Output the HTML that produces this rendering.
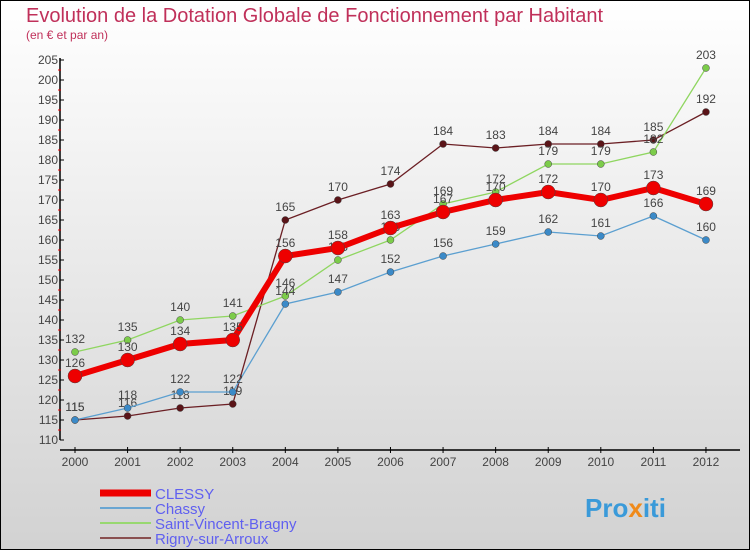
<!DOCTYPE html>
<html><head><meta charset="utf-8"><style>
body{margin:0}
#c{width:750px;height:550px;position:relative;box-sizing:border-box;border:1px solid #000;background:linear-gradient(#ffffff,#d2d2d2);font-family:"Liberation Sans",sans-serif;overflow:hidden}
</style></head><body>
<div id="c">
<svg id="s" width="750" height="550" style="position:absolute;left:-1px;top:-1px">
<text x="26" y="22" font-size="20" fill="#c0305a">Evolution de la Dotation Globale de Fonctionnement par Habitant</text>
<text x="26" y="39" font-size="12" fill="#c0305a">(en € et par an)</text>
<g id="ax"></g><g id="ser"></g><g id="leg"></g>
<text x="585" y="517" font-size="26" font-weight="bold" fill="#3a9ad9">Pro<tspan fill="#f08a1a">x</tspan><tspan fill="#3a9ad9">iti</tspan></text>
</svg>
</div>
<script>
const years=[2000,2001,2002,2003,2004,2005,2006,2007,2008,2009,2010,2011,2012];
const clessy=[126,130,134,135,156,158,163,167,170,172,170,173,169];
const chassy=[115,118,122,122,144,147,152,156,159,162,161,166,160];
const svb=[132,135,140,141,146,155,160,169,172,179,179,182,203];
const rigny=[115,116,118,119,165,170,174,184,183,184,184,185,192];
const yTicks=[110,115,120,125,130,135,140,145,150,155,160,165,170,175,180,185,190,195,200,205];
const NS="http://www.w3.org/2000/svg";
const X=i=>75+i*52.58, Y=v=>60+(205-v)*4;
function mk(t,a,p){const e=document.createElementNS(NS,t);for(const k in a)e.setAttribute(k,a[k]);p.appendChild(e);return e;}
const ax=document.getElementById('ax');
let l=mk('line',{x1:60,y1:58,x2:60,y2:440,stroke:'#000','stroke-width':1.5},ax);


l=mk('line',{x1:60,y1:450,x2:740,y2:450,stroke:'#000','stroke-width':1.5},ax);


yTicks.forEach(v=>{
 mk('line',{x1:60,y1:Y(v),x2:64,y2:Y(v),stroke:'#000'},ax);
 if(v<205)mk('line',{x1:58,y1:Y(v+2.5),x2:61,y2:Y(v+2.5),stroke:'#e00'},ax);
 const t=mk('text',{x:58,y:Y(v)+4,'font-size':12,fill:'#444','text-anchor':'end'},ax);t.textContent=v;
 
 
});
years.forEach((y,i)=>{
 mk('line',{x1:X(i),y1:447,x2:X(i),y2:453,stroke:'#000'},ax);
 const t=mk('text',{x:X(i),y:466,'font-size':12,fill:'#444','text-anchor':'middle'},ax);t.textContent=y;
 
 
});
const ser=document.getElementById('ser');
const defs=[[rigny,'#6b1f24','#5a1418',1.3,3.5,'rigny'],[svb,'#8fd660','#7ccc4a',1.3,3.5,'saint-vincent-bragny'],[chassy,'#5b9fd0','#3b8ac8',1.3,3.5,'chassy'],[clessy,'#ee0000','#ee0000',6,7,'clessy']];
defs.forEach(([d,lc,pc,w,r,n])=>{
 const p=mk('polyline',{points:d.map((v,i)=>X(i)+','+Y(v)).join(' '),fill:'none',stroke:lc,'stroke-width':w},ser);
 
 
 d.forEach((v,i)=>{
  const c=mk('circle',{cx:X(i),cy:Y(v),r:r,fill:pc,stroke:'#444','stroke-width':0.5},ser);
  
  
  const t=mk('text',{x:X(i),y:Y(v)-9,'font-size':12,fill:'#444','text-anchor':'middle'},ser);t.textContent=v;
  
  
 });
});
const leg=document.getElementById('leg');
[['CLESSY','#ee0000',7],['Chassy','#6aa6d2',2],['Saint-Vincent-Bragny','#98d870',2],['Rigny-sur-Arroux','#8a5050',2]].forEach(([n,c,w],i)=>{
 const y=493+i*15;
 const g=mk('g',{},leg);
 
 
 mk('line',{x1:100,y1:y,x2:151,y2:y,stroke:c,'stroke-width':w},g);
 const t=mk('text',{x:155,y:y+6,'font-size':15,fill:'#6060f0'},g);t.textContent=n;
});
</script>
</body></html>
